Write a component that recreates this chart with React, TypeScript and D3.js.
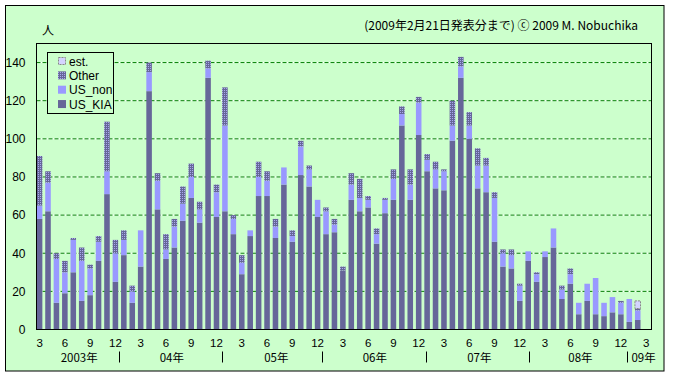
import React from "react";
import * as d3 from "d3";

// Categories: monthly, March 2003 .. March 2009 (73 slots; last one empty)
const categories: string[] = d3
  .timeMonth.range(new Date(2003, 2, 1), new Date(2009, 3, 1))
  .map((d) => d3.timeFormat("%Y-%m")(d));

const usKIA = [
  58, 62, 14, 19, 30, 15, 18, 36, 71, 25,
  39, 14, 33, 125, 63, 37, 43, 57, 69, 56, 132, 59,
  62, 50, 29, 49, 70, 70, 48, 76, 46, 81, 75, 59,
  50, 51, 31, 68, 62, 64, 45, 61, 68, 107, 68, 102,
  83, 74, 73, 99, 132, 100, 74, 72, 46, 33, 32, 15,
  36, 25, 38, 43, 16, 24, 8, 15, 8, 7, 9, 8,
  4, 5,
];
const usNon = [
  7, 15, 23, 11, 17, 21, 14, 10, 12, 15,
  8, 6, 19, 10, 15, 5, 11, 9, 11, 7, 5, 13,
  45, 8, 6, 3, 10, 8, 6, 9, 3, 15, 9, 9,
  12, 4, 0, 8, 7, 4, 5, 7, 11, 6, 8, 17,
  6, 10, 10, 8, 6, 7, 12, 14, 23, 7, 7, 8,
  5, 4, 3, 10, 5, 5, 6, 9, 19, 7, 8, 6,
  12, 5,
];
const other = [
  26, 6, 3, 6, 1, 7, 2, 3, 26, 7,
  5, 3, 0, 5, 4, 8, 4, 9, 7, 4, 4, 4,
  20, 2, 4, 0, 8, 5, 4, 0, 3, 3, 2, 0,
  2, 3, 2, 6, 10, 2, 3, 1, 5, 4, 8, 3,
  3, 4, 1, 13, 5, 7, 9, 4, 3, 2, 3, 1,
  0, 1, 0, 0, 2, 3, 0, 0, 0, 0, 0, 1,
  0, 1,
];
const est = [
  0, 0, 0, 0, 0, 0, 0, 0, 0, 0,
  0, 0, 0, 0, 0, 0, 0, 0, 0, 0, 0, 0,
  0, 0, 0, 0, 0, 0, 0, 0, 0, 0, 0, 0,
  0, 0, 0, 0, 0, 0, 0, 0, 0, 0, 0, 0,
  0, 0, 0, 0, 0, 0, 0, 0, 0, 0, 0, 0,
  0, 0, 0, 0, 0, 0, 0, 0, 0, 0, 0, 0,
  0, 4,
];

const yTicks = [0, 20, 40, 60, 80, 100, 120, 140];
const tickMonths = [3, 6, 9, 12];
const yearLabels = [
  { label: "2003年", at: 4.7 },
  { label: "04年", at: 15.7 },
  { label: "05年", at: 28.1 },
  { label: "06年", at: 39.8 },
  { label: "07年", at: 52.2 },
  { label: "08年", at: 64.2 },
  { label: "09年", at: 71.7 },
];
const yearSeparators = [9.47, 21.68, 33.55, 45.81, 58.1, 69.77];

const legendItems = [
  { key: "est", label: "est." },
  { key: "other", label: "Other" },
  { key: "usNon", label: "US_non" },
  { key: "usKIA", label: "US_KIA" },
];

const W = 673;
const H = 376;
const plot = { left: 36.5, right: 651.5, top: 43.5, bottom: 329.5 };
const BG = "#ccffcc";
const KIA_C = "#666699";
const NON_C = "#9999ff";
const EST_C = "#d4d4ff";
const NUM_FONT = "'Liberation Sans', Arial, sans-serif";
const JP_FONT = "'Noto Sans CJK JP', 'Noto Sans', sans-serif";

type Row = { i: number; usKIA: number; usNon: number; other: number; est: number };

export default function App() {
  const rows: Row[] = categories.map((_, i) => ({
    i,
    usKIA: usKIA[i] ?? 0,
    usNon: usNon[i] ?? 0,
    other: other[i] ?? 0,
    est: est[i] ?? 0,
  }));

  const x = d3
    .scaleBand<number>()
    .domain(d3.range(categories.length))
    .range([plot.left, plot.right])
    .paddingInner(0)
    .paddingOuter(0);
  const step = x.step();
  const barW = step * 0.66;
  const barOff = 0.3;
  const xc = (i: number) => plot.left + i * step + barOff + barW / 2;

  const y = d3.scaleLinear().domain([0, 150]).range([plot.bottom, plot.top]);

  const keys = ["usKIA", "usNon", "other", "est"] as const;
  const series = d3.stack<Row>().keys(keys as unknown as string[])(rows);

  const fills: Record<string, string> = {
    usKIA: KIA_C,
    usNon: NON_C,
    other: "url(#otherPat)",
    est: EST_C,
  };

  const legendTop = 52.5;
  const legendRowY = (k: number) => 61 + k * 14.35;

  return (
    <svg
      width={W}
      height={H}
      style={{ position: "absolute", left: 0, top: 0, background: "#fff" }}
    >
      <defs>
        <pattern id="otherPat" patternUnits="userSpaceOnUse" width={2} height={2}>
          <rect width={2} height={2} fill={KIA_C} />
          <rect width={1} height={1} fill="#a9a9ee" />
        </pattern>
      </defs>
      <rect x={5.5} y={5.5} width={658.5} height={365.5} fill={BG} stroke="#000" />

      {/* gridlines */}
      {yTicks
        .filter((t) => t > 0)
        .map((t) => (
          <g key={"g" + t}>
            <line x1={plot.left} x2={plot.right} y1={y(t)} y2={y(t)} stroke="#ffffff" strokeWidth={1} />
            <line
              x1={plot.left}
              x2={plot.right}
              y1={y(t)}
              y2={y(t)}
              stroke="#008000"
              strokeWidth={1}
              strokeDasharray="4,2"
            />
          </g>
        ))}

      {/* bars */}
      {series.map((s) => (
        <g key={s.key}>
          {s.map((d, i) => {
            const h = y(d[0]) - y(d[1]);
            if (h <= 0) return null;
            const isEst = s.key === "est";
            return (
              <rect
                key={i}
                x={(x(i) as number) + barOff}
                y={y(d[1])}
                width={barW}
                height={h}
                fill={fills[s.key]}
                stroke={isEst ? "#888888" : "none"}
                strokeDasharray={isEst ? "2,1" : undefined}
                strokeWidth={isEst ? 1 : 0}
              />
            );
          })}
        </g>
      ))}

      <rect
        x={plot.left}
        y={plot.top}
        width={plot.right - plot.left}
        height={plot.bottom - plot.top}
        fill="none"
        stroke="#000"
      />

      {/* y labels */}
      {yTicks.map((t) => (
        <text
          key={"y" + t}
          x={25.5}
          y={y(t) + 4.3}
          textAnchor="end"
          fontFamily={NUM_FONT}
          fontSize={12}
          fill="#000"
        >
          {t}
        </text>
      ))}

      {/* month labels */}
      {categories.map((c, i) => {
        const m = +c.slice(5);
        if (!tickMonths.includes(m)) return null;
        return (
          <text
            key={"m" + i}
            x={xc(i)}
            y={347.3}
            textAnchor="middle"
            fontFamily={NUM_FONT}
            fontSize={11.5}
            fill="#000"
          >
            {m}
          </text>
        );
      })}

      {/* year labels */}
      {yearLabels.map((yl) => (
        <text
          key={yl.label}
          x={xc(yl.at)}
          y={361.8}
          textAnchor="middle"
          fontFamily={JP_FONT}
          fontSize={11.5}
          fill="#000"
        >
          {yl.label}
        </text>
      ))}
      {yearSeparators.map((s, k) => (
        <line
          key={"s" + k}
          x1={Math.round(xc(s)) + 0.5}
          x2={Math.round(xc(s)) + 0.5}
          y1={351.5}
          y2={362.5}
          stroke="#000"
        />
      ))}

      {/* legend */}
      <rect x={47.5} y={legendTop} width={66} height={61} fill={BG} stroke="#000" />
      {legendItems.map((it, k) => {
        const cy = legendRowY(k);
        const isEst = it.key === "est";
        return (
          <g key={it.key}>
            <rect
              x={isEst ? 58.5 : 58}
              y={isEst ? cy - 3.5 : cy - 4}
              width={isEst ? 7 : 8}
              height={isEst ? 7 : 8}
              fill={fills[it.key]}
              stroke={isEst ? "#888888" : "none"}
              strokeDasharray={isEst ? "2,1" : undefined}
            />
            <text x={69} y={cy + 4.5} fontFamily={NUM_FONT} fontSize={12} fill="#000">
              {it.label}
            </text>
          </g>
        );
      })}

      {/* titles */}
      <text x={42} y={34.5} fontFamily={JP_FONT} fontSize={12} fill="#000">
        人
      </text>
      <text x={638} y={30} textAnchor="end" fontFamily={JP_FONT} fontSize={12} fill="#000">
        (2009年2月21日発表分まで) ⓒ 2009 M. Nobuchika
      </text>
    </svg>
  );
}
